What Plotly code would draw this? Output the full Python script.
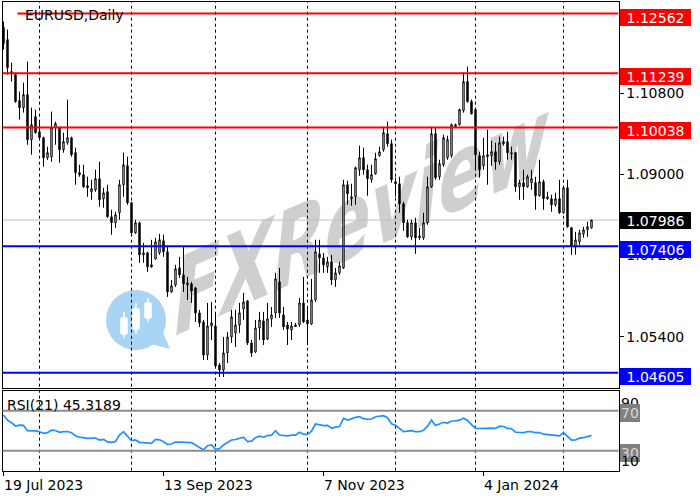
import base64
import plotly.graph_objects as go

# ---------------- data ----------------
open_ = [1.12252, 1.11985, 1.11275, 1.11209, 1.10632, 1.10477, 1.10765, 1.09767, 1.10277, 1.09944,
         1.09811, 1.09368, 1.09390, 1.10033, 1.10033, 1.09545, 1.09700, 1.09811, 1.09479, 1.09035,
         1.08991, 1.08747, 1.08614, 1.08658, 1.08902, 1.08458, 1.08614, 1.08059, 1.07926, 1.08148,
         1.08769, 1.09190, 1.08370, 1.07704, 1.07926, 1.07216, 1.07260, 1.06994, 1.07127, 1.07260,
         1.07527, 1.07283, 1.06395, 1.06550, 1.06928, 1.06772, 1.06550, 1.06573, 1.06484, 1.05929,
         1.05730, 1.04998, 1.05641, 1.05641, 1.04776, 1.04665, 1.05042, 1.05397, 1.05486, 1.05663,
         1.06018, 1.06195, 1.05264, 1.05064, 1.05597, 1.05752, 1.05353, 1.05796, 1.05929, 1.06617,
         1.05885, 1.05663, 1.05552, 1.05663, 1.05663, 1.06151, 1.05774, 1.05685, 1.06218, 1.07238,
         1.07149, 1.06950, 1.07061, 1.06661, 1.06817, 1.06928, 1.08769, 1.08458, 1.08503, 1.09101,
         1.09368, 1.09101, 1.08880, 1.09013, 1.09412, 1.09545, 1.09900, 1.09678, 1.08835, 1.08791,
         1.08347, 1.07926, 1.07615, 1.07926, 1.07593, 1.07593, 1.07926, 1.08724, 1.09900, 1.08946,
         1.09212, 1.09368, 1.09412, 1.10055, 1.10100, 1.10410, 1.11054, 1.10610, 1.10433, 1.09412,
         1.09190, 1.09390, 1.09412, 1.09501, 1.09279, 1.09678, 1.09723, 1.09479, 1.09479, 1.08724,
         1.08813, 1.08724, 1.08813, 1.08813, 1.08525, 1.08835, 1.08458, 1.08458, 1.08325, 1.08458,
         1.08148, 1.08702, 1.07815, 1.07393, 1.07504, 1.07682, 1.07770, 1.07815]

high_ = [1.12385, 1.12207, 1.11475, 1.11253, 1.10832, 1.11031, 1.11497, 1.10477, 1.10433, 1.10144,
         1.09834, 1.09612, 1.10388, 1.10166, 1.10055, 1.09922, 1.10654, 1.09834, 1.09590, 1.09212,
         1.09212, 1.08946, 1.08880, 1.09101, 1.09279, 1.08702, 1.08769, 1.08214, 1.08170, 1.08880,
         1.09479, 1.09390, 1.08392, 1.07992, 1.07948, 1.07482, 1.07283, 1.07549, 1.07593, 1.07682,
         1.07660, 1.07393, 1.06661, 1.06994, 1.07172, 1.07393, 1.06728, 1.06617, 1.06506, 1.05996,
         1.05774, 1.06151, 1.06173, 1.05929, 1.04820, 1.05397, 1.05508, 1.05996, 1.05996, 1.06151,
         1.06373, 1.06218, 1.05330, 1.05774, 1.05952, 1.05952, 1.06151, 1.06062, 1.06817, 1.06928,
         1.06062, 1.05730, 1.05730, 1.05708, 1.06262, 1.06728, 1.06062, 1.06684, 1.07549, 1.07549,
         1.07260, 1.07172, 1.07216, 1.06928, 1.07061, 1.08880, 1.08857, 1.08791, 1.09168, 1.09634,
         1.09590, 1.09212, 1.09212, 1.09479, 1.09612, 1.10055, 1.10166, 1.09767, 1.08924, 1.08946,
         1.08392, 1.07992, 1.07992, 1.08037, 1.07815, 1.08148, 1.08946, 1.10055, 1.10033, 1.09323,
         1.09878, 1.09856, 1.10122, 1.10122, 1.10455, 1.11253, 1.11386, 1.10654, 1.10477, 1.09501,
         1.09811, 1.09989, 1.09745, 1.09700, 1.09834, 1.09834, 1.09944, 1.09612, 1.09501, 1.08880,
         1.09101, 1.08991, 1.09101, 1.08946, 1.09323, 1.08880, 1.08614, 1.08547, 1.08591, 1.08880,
         1.08747, 1.08880, 1.07837, 1.07726, 1.07770, 1.07837, 1.07948, 1.07992]

low_ = [1.11763, 1.11209, 1.11054, 1.10588, 1.10211, 1.10366, 1.09656, 1.09434, 1.09900, 1.09800,
        1.09168, 1.09323, 1.09279, 1.09656, 1.09257, 1.09479, 1.09656, 1.09390, 1.08769, 1.08946,
        1.08702, 1.08503, 1.08436, 1.08614, 1.08281, 1.08259, 1.08037, 1.07660, 1.07815, 1.07992,
        1.08503, 1.08325, 1.07682, 1.07682, 1.07038, 1.07038, 1.06839, 1.06928, 1.07105, 1.07216,
        1.07172, 1.06284, 1.06373, 1.06506, 1.06706, 1.06395, 1.06218, 1.06151, 1.05730, 1.05619,
        1.04887, 1.04887, 1.05330, 1.04731, 1.04510, 1.04510, 1.04820, 1.05264, 1.05175, 1.05486,
        1.05774, 1.05219, 1.04953, 1.05042, 1.05330, 1.05219, 1.05330, 1.05619, 1.05818, 1.05818,
        1.05552, 1.05219, 1.05330, 1.05619, 1.05619, 1.05708, 1.05219, 1.05663, 1.06173, 1.06817,
        1.06817, 1.06817, 1.06550, 1.06506, 1.06772, 1.06905, 1.08325, 1.08303, 1.08325, 1.08968,
        1.08991, 1.08525, 1.08813, 1.08991, 1.09390, 1.09501, 1.09612, 1.08813, 1.08503, 1.08148,
        1.07748, 1.07593, 1.07549, 1.07238, 1.07549, 1.07549, 1.07881, 1.08702, 1.08880, 1.08880,
        1.09168, 1.09323, 1.09368, 1.10033, 1.10078, 1.10366, 1.10588, 1.10322, 1.09101, 1.08924,
        1.09101, 1.08769, 1.09190, 1.09101, 1.09212, 1.09634, 1.09323, 1.09323, 1.08614, 1.08436,
        1.08436, 1.08702, 1.08658, 1.08214, 1.08503, 1.08214, 1.08436, 1.08170, 1.08281, 1.08125,
        1.08125, 1.07815, 1.07216, 1.07216, 1.07438, 1.07593, 1.07615, 1.07793]

close_ = [1.11897, 1.11364, 1.11242, 1.10610, 1.10477, 1.10765, 1.09767, 1.10100, 1.09922, 1.09811,
          1.09368, 1.09479, 1.10033, 1.10122, 1.09545, 1.09723, 1.09811, 1.09434, 1.09035, 1.08991,
          1.08724, 1.08702, 1.08680, 1.08902, 1.08436, 1.08591, 1.08059, 1.07926, 1.08103, 1.08769,
          1.09212, 1.08370, 1.07704, 1.07926, 1.07216, 1.07260, 1.06950, 1.06950, 1.07504, 1.07549,
          1.07283, 1.06395, 1.06528, 1.06905, 1.06772, 1.06573, 1.06595, 1.06417, 1.05929, 1.05708,
          1.04998, 1.05641, 1.05708, 1.04754, 1.04665, 1.05042, 1.05397, 1.05841, 1.05663, 1.05929,
          1.06173, 1.05264, 1.05042, 1.05597, 1.05774, 1.05330, 1.05796, 1.05885, 1.06684, 1.05929,
          1.05619, 1.05574, 1.05641, 1.05630, 1.06151, 1.05730, 1.05685, 1.06218, 1.07283, 1.07149,
          1.06994, 1.07061, 1.06661, 1.06817, 1.06972, 1.08769, 1.08569, 1.08503, 1.09146, 1.09368,
          1.09101, 1.08902, 1.08991, 1.09346, 1.09501, 1.09922, 1.09678, 1.08880, 1.08791, 1.08347,
          1.07926, 1.07615, 1.07926, 1.07593, 1.07637, 1.07926, 1.08724, 1.09900, 1.08924, 1.09235,
          1.09811, 1.09767, 1.10100, 1.10100, 1.10433, 1.11054, 1.10610, 1.10344, 1.09434, 1.09101,
          1.09412, 1.09434, 1.09501, 1.09279, 1.09700, 1.09723, 1.09479, 1.09456, 1.08724, 1.08813,
          1.08724, 1.08946, 1.08902, 1.08525, 1.08835, 1.08458, 1.08503, 1.08325, 1.08458, 1.08148,
          1.08702, 1.07837, 1.07416, 1.07549, 1.07704, 1.07770, 1.07837, 1.07986]

rsi_ = [65.7, 60.5, 58.0, 54.7, 55.5, 55.3, 50.0, 50.2, 49.8, 49.0,
        47.4, 48.0, 50.5, 50.2, 48.4, 49.0, 49.2, 48.0, 45.0, 43.5,
        42.8, 42.4, 42.5, 42.6, 40.7, 41.4, 38.8, 38.4, 39.2, 45.7,
        49.0, 44.5, 40.0, 40.7, 38.4, 38.0, 37.4, 37.4, 41.2, 40.9,
        39.0, 36.4, 36.7, 38.7, 38.5, 38.4, 38.4, 38.0, 35.7, 33.0,
        30.8, 35.0, 35.7, 31.4, 32.0, 35.7, 38.5, 40.7, 41.2, 42.4,
        43.5, 39.0, 39.5, 43.0, 44.5, 43.5, 45.0, 45.5, 50.0, 45.7,
        45.0, 44.8, 45.5, 45.5, 48.4, 46.5, 46.2, 49.5, 56.7, 55.7,
        55.0, 55.3, 52.4, 53.5, 54.2, 62.4, 60.7, 61.8, 63.4, 64.0,
        62.0, 61.4, 61.7, 64.0, 64.5, 65.0, 63.0, 57.0, 55.5, 52.0,
        49.0, 49.5, 50.0, 49.0, 49.0, 50.5, 54.5, 60.7, 55.2, 56.7,
        58.4, 57.6, 59.7, 59.8, 60.5, 62.4, 60.2, 56.0, 52.4, 52.2,
        52.4, 52.4, 52.5, 52.2, 54.5, 54.2, 52.4, 52.0, 48.5, 48.2,
        48.0, 49.0, 49.0, 48.0, 48.2, 46.5, 46.0, 45.3, 45.5, 44.8,
        48.0, 44.0, 40.5, 40.7, 42.5, 43.0, 43.8, 45.32]

rsi_label_value = 45.3189
symbol_title = "EURUSD,Daily"

date_tick_index = [0, 40, 80, 120]
date_tick_text = ["19 Jul 2023", "13 Sep 2023", "7 Nov 2023", "4 Jan 2024"]
month_sep_index = [9, 32, 53, 76, 98, 118, 140]

price_ticks = [1.054, 1.072, 1.090, 1.108]
level_values = [1.12562, 1.11239, 1.10038, 1.07406, 1.04605]
level_colors = ["#ff0000", "#ff0000", "#ff0000", "#0000ff", "#0000ff"]
level_start = [3.5, None, None, None, None]
last_price = 1.07986
rsi_levels = [70, 30]
rsi_axis_labels = [90, 70, 30, 10]

bars = list(range(len(close_)))

# ---------------- layout geometry ----------------
W, H = 700, 500
X_RANGE = [-0.25, 153.75]
Y_RANGE = [1.04266, 1.12828]
X_DOM = [2.5 / W, 618.5 / W]
Y_DOM_MAIN = [1 - 388 / H, 1 - 1.5 / H]
Y_DOM_RSI = [1 - 470.7 / H, 1 - 390.7 / H]
FONT = "DejaVu Sans"

fig = go.Figure()
fig.add_trace(go.Candlestick(
    x=bars, open=open_, high=high_, low=low_, close=close_,
    increasing=dict(line=dict(color="black", width=1), fillcolor="white"),
    decreasing=dict(line=dict(color="black", width=1), fillcolor="black"),
    whiskerwidth=0, xaxis="x", yaxis="y", showlegend=False, hoverinfo="skip"))
fig.add_trace(go.Scatter(
    x=bars, y=rsi_, mode="lines", line=dict(color="#1e90ff", width=1.7),
    xaxis="x2", yaxis="y2", showlegend=False, hoverinfo="skip"))

shapes = []
for idx in month_sep_index:
    shapes.append(dict(type="line", xref="x", yref="paper", x0=idx, x1=idx,
                       y0=Y_DOM_RSI[0], y1=Y_DOM_MAIN[1],
                       line=dict(color="black", width=1, dash="3px,3px"), layer="below"))
shapes.append(dict(type="line", xref="x", yref="y", x0=X_RANGE[0], x1=X_RANGE[1],
                   y0=last_price, y1=last_price, line=dict(color="#c0c0c0", width=1), layer="below"))
for val, col, st in zip(level_values, level_colors, level_start):
    shapes.append(dict(type="line", xref="x", yref="y",
                       x0=X_RANGE[0] if st is None else st, x1=X_RANGE[1],
                       y0=val, y1=val, line=dict(color=col, width=2), layer="above"))
for lv in rsi_levels:
    shapes.append(dict(type="line", xref="x2 domain", yref="y2", x0=0, x1=1, y0=lv, y1=lv,
                       line=dict(color="#8c8c8c", width=2), layer="above"))

ann = []
ann.append(dict(text=symbol_title, xref="paper", yref="paper", x=23 / W, y=1 - 15 / H,
                xanchor="left", yanchor="middle", showarrow=False,
                font=dict(family=FONT, size=14, color="black")))
for val, col in zip(level_values, level_colors):
    ann.append(dict(text=f"{val:.5f}", xref="paper", yref="y", x=620 / W, y=val,
                    xanchor="left", yanchor="middle", yshift=-3.5, showarrow=False,
                    bgcolor=col, width=71, height=17, borderpad=0, borderwidth=0, align="center",
                    font=dict(family=FONT, size=14, color="white")))
ann.append(dict(text=f"{last_price:.5f}", xref="paper", yref="y", x=620 / W, y=last_price,
                xanchor="left", yanchor="middle", showarrow=False,
                bgcolor="black", width=71, height=17, borderpad=0, borderwidth=0, align="center",
                font=dict(family=FONT, size=14, color="white")))
ann.append(dict(text=f"RSI(21) {rsi_label_value:.4f}", xref="paper", yref="paper", x=5 / W, y=1 - 405 / H,
                xanchor="left", yanchor="middle", showarrow=False,
                font=dict(family=FONT, size=14, color="black")))
for lv in rsi_axis_labels:
    a = dict(text=str(lv), xref="paper", yref="y2", x=620 / W, y=lv, xanchor="left",
             showarrow=False, borderpad=1, borderwidth=0)
    if lv in rsi_levels:
        a.update(yanchor="middle", yshift=-2, bgcolor="#808080",
                 font=dict(family=FONT, size=14, color="#d8d8d8"))
    elif lv == max(rsi_axis_labels):
        a.update(yanchor="top", yshift=-3, font=dict(family=FONT, size=14, color="black"))
    else:
        a.update(yanchor="bottom", yshift=1, font=dict(family=FONT, size=14, color="black"))
    ann.append(a)
for idx, txt in zip(date_tick_index, date_tick_text):
    ann.append(dict(text=txt, xref="x2", yref="paper", x=idx, y=1 - 485 / H,
                    xanchor="left", yanchor="middle", xshift=-2, showarrow=False,
                    font=dict(family=FONT, size=14, color="black")))

# watermark (drawn behind the chart)
svg = f'''<svg xmlns="http://www.w3.org/2000/svg" width="{W}" height="{H}" viewBox="0 0 {W} {H}">
<g fill="#aad4f4"><circle cx="136" cy="320" r="30"/><path d="M148 343 L170 349 L162 330 Z"/></g>
<g fill="#ffffff" stroke="#ffffff" stroke-width="1.5">
<rect x="121" y="318" width="6" height="16" rx="1"/><line x1="124" y1="312" x2="124" y2="338"/>
<rect x="133" y="309" width="6" height="20" rx="1"/><line x1="136" y1="303" x2="136" y2="334"/>
<rect x="145" y="303" width="6" height="15" rx="1"/><line x1="148" y1="298" x2="148" y2="322"/>
</g>
<text transform="translate(170,338) rotate(-24) skewX(-30)" x="0" y="0" font-family="DejaVu Sans"
 font-weight="bold" font-size="96" fill="#cfcfcf" textLength="410" lengthAdjust="spacingAndGlyphs">FXReview</text>
</svg>'''
img_src = "data:image/svg+xml;base64," + base64.b64encode(svg.encode("utf-8")).decode("ascii")

axis_common = dict(showline=True, mirror=True, linecolor="black", linewidth=1,
                   showgrid=False, zeroline=False, fixedrange=True)

fig.update_layout(
    width=W, height=H, margin=dict(l=0, r=0, t=0, b=0),
    paper_bgcolor="white", plot_bgcolor="rgba(0,0,0,0)",
    boxgap=0.5, showlegend=False,
    font=dict(family=FONT, size=14, color="black"),
    xaxis=dict(domain=X_DOM, range=X_RANGE, anchor="y", showticklabels=False, ticks="",
               rangeslider=dict(visible=False), **axis_common),
    yaxis=dict(domain=Y_DOM_MAIN, range=Y_RANGE, anchor="x", side="right",
               tickvals=price_ticks, tickformat=".5f", ticks="outside", ticklen=4,
               tickcolor="black", tickfont=dict(family=FONT, size=14, color="black"), **axis_common),
    xaxis2=dict(domain=X_DOM, range=X_RANGE, anchor="y2", tickvals=date_tick_index,
                ticks="outside", ticklen=4, tickcolor="black", showticklabels=False,
                rangeslider=dict(visible=False), **axis_common),
    yaxis2=dict(domain=Y_DOM_RSI, range=[10, 90], anchor="x2", side="right",
                showticklabels=False, ticks="", **axis_common),
    shapes=shapes, annotations=ann,
    images=[dict(source=img_src, xref="paper", yref="paper", x=0, y=1, sizex=1, sizey=1,
                 xanchor="left", yanchor="top", sizing="stretch", layer="below")],
)

fig.write_html("out.html", config={"displayModeBar": False},
               post_script="document.body.style.margin='0px';document.body.style.overflow='hidden';")
